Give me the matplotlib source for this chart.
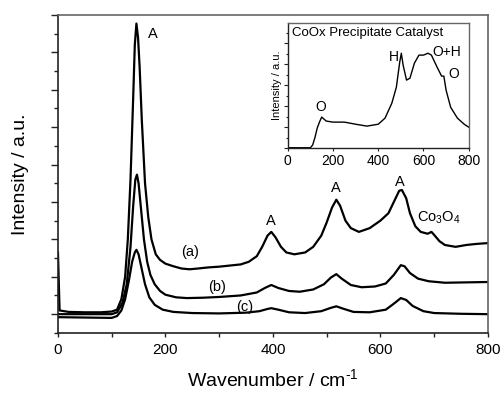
import matplotlib
matplotlib.use('Agg')
import matplotlib.pyplot as plt
from matplotlib.ticker import MultipleLocator

plt.rcParams['font.family'] = ['Liberation Sans', 'DejaVu Sans']
plt.rcParams['mathtext.fontset'] = 'custom'
plt.rcParams['mathtext.rm'] = 'Liberation Sans'
plt.rcParams['mathtext.default'] = 'regular'

# Спектр (a)
x_a = [0, 3, 20, 50, 80, 100, 110, 118, 125, 130, 135, 140, 143, 146, 149, 152, 156, 162, 168, 174,
       182, 190, 200, 215, 230, 245, 260, 280, 300, 320, 340, 355, 370, 380, 390, 397, 405, 415, 425,
       440, 460, 475, 490, 500, 510, 518, 525, 535, 545, 560, 580, 600, 615, 625, 635, 640, 648, 655,
       665, 675, 688, 695, 700, 710, 720, 740, 760, 780, 800]
y_a = [1.65, 0.1, 0.06, 0.05, 0.05, 0.07, 0.12, 0.4, 1.0, 2.0, 3.6, 5.8, 7.2, 7.77, 7.4, 6.6, 5.2, 3.5, 2.6, 2.0,
       1.6, 1.45, 1.35, 1.28, 1.22, 1.2, 1.22, 1.25, 1.27, 1.3, 1.33, 1.4, 1.55, 1.8, 2.1, 2.2, 2.05, 1.8, 1.65,
       1.6, 1.65, 1.8, 2.1, 2.45, 2.85, 3.06, 2.9, 2.5, 2.3, 2.2, 2.3, 2.5, 2.7, 3.0, 3.3, 3.32, 3.1, 2.7,
       2.35, 2.2, 2.15, 2.2, 2.12, 1.95, 1.85, 1.8, 1.85, 1.88, 1.9]

# Спектр (b)
x_b = [0, 50, 100, 110, 120, 128, 135, 140, 144, 147, 150, 154, 160, 166, 172, 180, 190, 200, 220, 240,
       270, 300, 340, 370, 385, 397, 410, 430, 450, 475, 495, 508, 518, 528, 545, 565, 590, 610, 625,
       638, 645, 655, 670, 690, 720, 760, 800]
y_b = [0.0, 0.0, 0.0, 0.05, 0.3, 0.8, 1.8, 2.9, 3.6, 3.73, 3.5, 2.9, 2.0, 1.4, 1.05, 0.8, 0.62, 0.52, 0.45, 0.43,
       0.44, 0.46, 0.5, 0.58, 0.7, 0.78, 0.7, 0.62, 0.6, 0.66, 0.8, 0.98, 1.07, 0.95, 0.78, 0.72, 0.74, 0.82, 1.05,
       1.31, 1.28, 1.1, 0.95, 0.88, 0.84, 0.85, 0.86]

# Спектр (c)
x_c = [0, 50, 100, 110, 118, 125, 132, 138, 143, 146, 150, 156, 162, 170, 180, 195, 215, 250, 300, 350,
       375, 390, 397, 410, 430, 460, 490, 508, 518, 530, 550, 580, 610, 625, 638, 648, 660, 680, 700,
       750, 800]
y_c = [-0.08, -0.09, -0.1, -0.05, 0.1, 0.4, 0.9, 1.4, 1.65, 1.72, 1.6, 1.2, 0.8, 0.45, 0.25, 0.12, 0.06, 0.03, 0.02, 0.04,
       0.08, 0.14, 0.16, 0.12, 0.05, 0.03, 0.08, 0.17, 0.21, 0.15, 0.06, 0.05, 0.12, 0.28, 0.43, 0.38, 0.22, 0.08, 0.03,
       0.01, 0.0]

# Вставка: спектр катализатора
x_in = [0, 50, 100, 110, 120, 130, 140, 150, 170, 200, 250, 300, 350, 400, 430, 460, 480, 495, 502, 510,
        525, 540, 560, 580, 600, 620, 635, 660, 680, 690, 700, 720, 750, 780, 800]
y_in = [0.02, 0.02, 0.02, 0.15, 0.5, 0.95, 1.24, 1.48, 1.29, 1.24, 1.24, 1.14, 1.05, 1.14, 1.43, 2.14, 2.9, 4.1, 4.52, 3.95,
        3.24, 3.33, 4.05, 4.43, 4.43, 4.52, 4.43, 3.86, 3.43, 3.43, 2.76, 1.95, 1.43, 1.14, 1.0]

main_labels = ['A', 'A', 'A', 'A']
main_label_x = [177, 396, 517, 636]
main_label_y = [7.48, 2.49, 3.38, 3.54]

curve_labels = ['(a)', '(b)', '(c)']
curve_label_x = [246, 296, 348]
curve_label_y = [1.66, 0.72, 0.19]

inset_labels = ['O', 'H', 'O+H', 'O']
inset_label_x = [145, 467, 701, 733]
inset_label_y = [1.94, 4.35, 4.59, 3.52]


def style_spines(ax, lw):
    ax.spines['left'].set_color('#222222')
    ax.spines['bottom'].set_color('#222222')
    ax.spines['top'].set_color('#666666')
    ax.spines['right'].set_color('#666666')
    for s in ax.spines.values():
        s.set_linewidth(lw)


fig = plt.figure(figsize=(5.04, 3.93), dpi=100)
ax = fig.add_axes([0.115, 0.153, 0.853, 0.809])

for xs, ys in [(x_a, y_a), (x_b, y_b), (x_c, y_c)]:
    ax.plot(xs, ys, color='black', lw=1.6)

ax.set_xlim(0, 800)
ax.set_ylim(-0.5, 8.0)
ax.xaxis.set_major_locator(MultipleLocator(200))
ax.xaxis.set_minor_locator(MultipleLocator(100))
ax.yaxis.set_major_locator(MultipleLocator(1))
ax.yaxis.set_minor_locator(MultipleLocator(0.5))
ax.tick_params(which='both', direction='out', top=False, right=False, labelleft=False,
               labelsize=11, color='#222222', width=1)
ax.tick_params(axis='y', which='major', length=5)
ax.tick_params(axis='y', which='minor', length=3)
ax.tick_params(axis='x', which='both', length=3, pad=4)
style_spines(ax, 1.2)

ax.set_xlabel(r'Wavenumber / cm$^{\text{-}1}$', fontsize=14, labelpad=8)
ax.set_ylabel('Intensity / a.u.', fontsize=14, labelpad=16)

for t, x, y in zip(main_labels, main_label_x, main_label_y):
    ax.text(x, y, t, fontsize=10.5, ha='center', va='center')
for t, x, y in zip(curve_labels, curve_label_x, curve_label_y):
    ax.text(x, y, t, fontsize=10.5, ha='center', va='center')
ax.text(708, 2.57, 'Co$_3$O$_4$', fontsize=10.5, ha='center', va='center')

ins = fig.add_axes([0.571, 0.623, 0.359, 0.318])
ins.plot(x_in, y_in, color='black', lw=1.0)
ins.set_xlim(0, 800)
ins.set_ylim(0, 5.95)
ins.xaxis.set_major_locator(MultipleLocator(200))
ins.yaxis.set_major_locator(MultipleLocator(1))
ins.yaxis.set_minor_locator(MultipleLocator(0.5))
ins.tick_params(which='both', direction='out', top=False, right=False, labelleft=False,
                labelsize=10, color='#222222', width=0.8, pad=2)
ins.tick_params(axis='y', which='major', length=3)
ins.tick_params(axis='y', which='minor', length=1.5)
ins.tick_params(axis='x', which='major', length=2)
style_spines(ins, 1.0)
ins.set_ylabel('Intensity / a.u.', fontsize=8, labelpad=1)
ins.text(0.025, 0.92, 'CoOx Precipitate Catalyst', fontsize=9.5, ha='left', va='center',
         transform=ins.transAxes)
for t, x, y in zip(inset_labels, inset_label_x, inset_label_y):
    ins.text(x, y, t, fontsize=10, ha='center', va='center')

fig.savefig('out.png', dpi=100)
